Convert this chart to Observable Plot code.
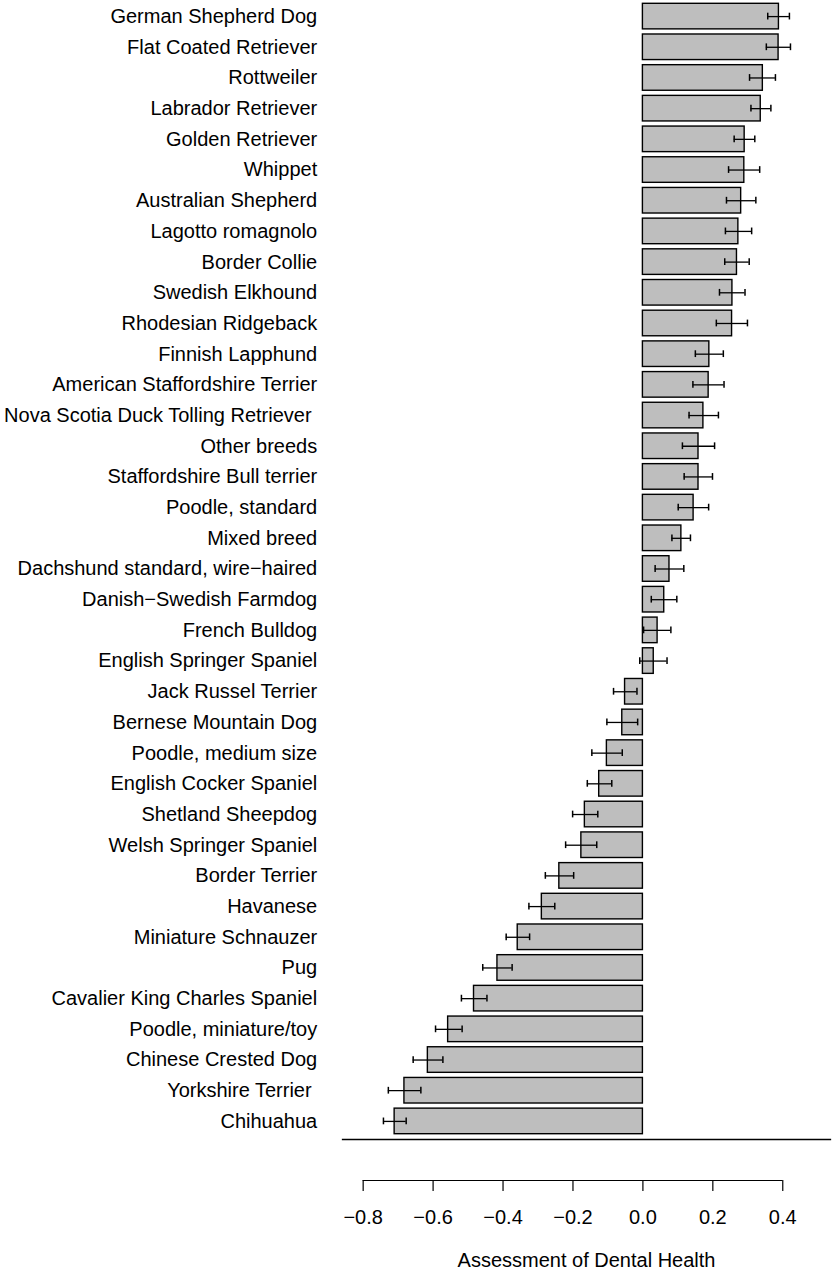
<!DOCTYPE html>
<html>
<head>
<meta charset="utf-8">
<script src="https://cdn.jsdelivr.net/npm/d3@7"></script>
<script src="https://cdn.jsdelivr.net/npm/@observablehq/plot@0.6"></script>
<style>
  html, body { margin: 0; padding: 0; background: #fff; }
  #chart svg text { white-space: pre; }
</style>
</head>
<body>
<div id="chart"></div>
<script>
// ---- data ----
const breeds = [
  "German Shepherd Dog", "Flat Coated Retriever", "Rottweiler", "Labrador Retriever",
  "Golden Retriever", "Whippet", "Australian Shepherd", "Lagotto romagnolo",
  "Border Collie", "Swedish Elkhound", "Rhodesian Ridgeback", "Finnish Lapphund",
  "American Staffordshire Terrier", "Nova Scotia Duck Tolling Retriever ", "Other breeds",
  "Staffordshire Bull terrier", "Poodle, standard", "Mixed breed",
  "Dachshund standard, wire\u2212haired", "Danish\u2212Swedish Farmdog", "French Bulldog",
  "English Springer Spaniel", "Jack Russel Terrier", "Bernese Mountain Dog",
  "Poodle, medium size", "English Cocker Spaniel", "Shetland Sheepdog",
  "Welsh Springer Spaniel", "Border Terrier", "Havanese", "Miniature Schnauzer", "Pug",
  "Cavalier King Charles Spaniel", "Poodle, miniature/toy", "Chinese Crested Dog",
  "Yorkshire Terrier ", "Chihuahua"
];
const estimates = [
  0.389, 0.388, 0.343, 0.337, 0.291, 0.290, 0.281, 0.273, 0.269, 0.256, 0.255, 0.190,
  0.188, 0.173, 0.159, 0.159, 0.145, 0.110, 0.076, 0.061, 0.042, 0.031, -0.051, -0.059,
  -0.103, -0.125, -0.166, -0.176, -0.239, -0.289, -0.358, -0.416, -0.483, -0.557, -0.615,
  -0.682, -0.710
];
const ciLow = [
  0.357, 0.353, 0.305, 0.309, 0.261, 0.245, 0.239, 0.236, 0.234, 0.219, 0.210, 0.150,
  0.143, 0.132, 0.113, 0.118, 0.101, 0.083, 0.035, 0.024, 0.002, -0.009, -0.084, -0.103,
  -0.146, -0.159, -0.201, -0.221, -0.279, -0.326, -0.391, -0.458, -0.519, -0.593, -0.657,
  -0.728, -0.742
];
const ciHigh = [
  0.419, 0.422, 0.379, 0.366, 0.320, 0.334, 0.323, 0.311, 0.304, 0.292, 0.299, 0.230,
  0.232, 0.216, 0.205, 0.199, 0.188, 0.136, 0.117, 0.097, 0.080, 0.069, -0.017, -0.015,
  -0.059, -0.089, -0.129, -0.132, -0.198, -0.252, -0.324, -0.374, -0.446, -0.517, -0.572,
  -0.635, -0.677
];
const xTicks = [-0.8, -0.6, -0.4, -0.2, 0.0, 0.2, 0.4];
const xTitle = "Assessment of Dental Health";

// table built from the arrays
const rows = breeds.map((b, i) => ({breed: b, value: estimates[i], lo: ciLow[i], hi: ciHigh[i]}));

// ---- layout ----
const W = 833, H = 1276;
const MT = 0, MB = 96, ML = 342, MR = 3;
const FONT = "'Liberation Sans', Arial, Helvetica, sans-serif";

const chart = Plot.plot({
  width: W,
  height: H,
  marginTop: MT,
  marginBottom: MB,
  marginLeft: ML,
  marginRight: MR,
  style: {fontFamily: FONT, fontSize: "20px", background: "#fff", color: "#000", whiteSpace: "pre"},
  x: {domain: [-0.8591, 0.5365]},
  y: {domain: breeds, paddingInner: 0.1667, paddingOuter: 0, round: false, insetTop: 3.3, insetBottom: 46.3},
  marks: [
    Plot.barX(rows, {x: "value", y: "breed", fill: "#bebebe", stroke: "#000", strokeWidth: 1.4}),
    Plot.ruleY(rows, {y: "breed", x1: "lo", x2: "hi", stroke: "#000", strokeWidth: 1.3}),
    Plot.tickX(rows, {x: "lo", y: "breed", stroke: "#000", strokeWidth: 1.5, insetTop: 9.4, insetBottom: 9.4}),
    Plot.tickX(rows, {x: "hi", y: "breed", stroke: "#000", strokeWidth: 1.5, insetTop: 9.4, insetBottom: 9.4}),
    // separator line under the bars (spans the plotting region)
    Plot.frame({anchor: "bottom", dy: -41, stroke: "#000", strokeWidth: 1.3}),
    // x axis line from first to last tick
    Plot.ruleY([0], {y: null, x1: () => xTicks[0], x2: () => xTicks[xTicks.length - 1],
      dy: (H - MB - MT) / 2, stroke: "#000", strokeWidth: 1.2}),
    Plot.axisX({ticks: xTicks, tickFormat: d3.format("0.1f"), tickSize: 11, tickPadding: 18.5,
      label: null, fontSize: 20, stroke: "#000", strokeWidth: 1.2, color: "#000"}),
    Plot.axisY({tickSize: 0, tickPadding: 25.3, label: null, fontSize: 20, color: "#000"}),
    Plot.text([xTitle], {text: d => d, frameAnchor: "bottom", dy: 86.6, fontSize: 20, fill: "#000"})
  ]
});
document.getElementById("chart").appendChild(chart);
</script>
</body>
</html>
